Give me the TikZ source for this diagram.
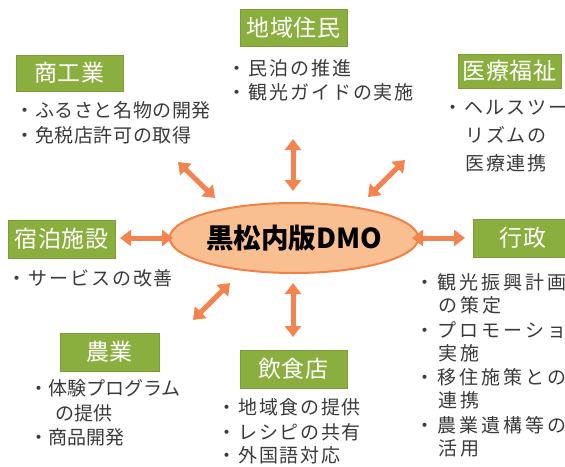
\documentclass[tikz,border=0pt]{standalone}
\usepackage{fontspec}
\setmainfont{Noto Sans CJK JP}
\usetikzlibrary{arrows.meta,shapes.geometric}
\definecolor{boxgreen}{HTML}{8BAF3F}
\definecolor{boxedge}{HTML}{7C9C36}
\definecolor{arroworange}{HTML}{F3844F}
\definecolor{ellfill}{HTML}{FABF91}
\definecolor{elledge}{HTML}{F08248}
\definecolor{txtgray}{HTML}{3A3A3A}
\newcommand\bodyfnt[1]{\fontsize{19}{22}\selectfont\addfontfeature{LetterSpace=#1}}
\tikzset{
  hdr/.style={draw=boxedge, fill=boxgreen, line width=1pt, text=white, inner sep=0pt,
    font=\fontsize{23}{27}\selectfont\addfontfeature{LetterSpace=4}},
  body/.style={anchor=west, inner sep=0pt, text=txtgray},
  link/.style={draw=arroworange, line width=5pt,
    {Triangle[width=16pt,length=11pt]}-{Triangle[width=16pt,length=11pt]}},
}
\begin{document}
\begin{tikzpicture}[x=1pt,y=-1pt]
\useasboundingbox (0,0) rectangle (565,466);
% centre
\node[ellipse, draw=elledge, fill=ellfill, line width=2pt, minimum width=222pt, minimum height=70pt, inner sep=0pt,
  font=\fontsize{27.5}{31}\selectfont\bfseries] (dmo) at (294,238) {黒松内版DMO};
% headers
\node[hdr, minimum width=107pt, minimum height=37pt] (jumin) at (293.5,27.5) {地域住民};
\node[hdr, minimum width=107pt, minimum height=36pt] (shoko) at (69.5,73) {商工業};
\node[hdr, minimum width=103pt, minimum height=34pt] (iryo) at (509.5,71) {医療福祉};
\node[hdr, minimum width=107pt, minimum height=38pt] (shuku) at (61.5,239) {宿泊施設};
\node[hdr, minimum width=100pt, minimum height=38pt] (gyosei) at (523,238) {行政};
\node[hdr, minimum width=99pt, minimum height=38pt] (nogyo) at (109.5,352) {農業};
\node[hdr, minimum width=107pt, minimum height=38pt] (inshoku) at (293.5,369) {飲食店};
% bodies
\node[body, font=\bodyfnt{10}] (j1) at (227.5,68) {・民泊の推進};
\node[body, font=\bodyfnt{10}] (j2) at (227.5,92) {・観光ガイドの実施};
\node[body, font=\bodyfnt{3}] (s1) at (15.5,110) {・ふるさと名物の開発};
\node[body, font=\bodyfnt{3}] (s2) at (15.5,135) {・免税店許可の取得};
\node[body, font=\bodyfnt{10}] (i1) at (443.5,108) {・ヘルスツー};
\node[body, font=\bodyfnt{10}] (i2) at (465,135) {リズムの};
\node[body, font=\bodyfnt{10}] (i3) at (465,163) {医療連携};
\node[body, font=\bodyfnt{10}] (h1) at (7.5,278) {・サービスの改善};
\node[body, font=\bodyfnt{16}] (g1) at (415.5,282) {・観光振興計画};
\node[body, font=\bodyfnt{16}] (g2) at (438,305) {の策定};
\node[body, font=\bodyfnt{16}] (g3) at (415.5,330) {・プロモーション};
\node[body, font=\bodyfnt{16}] (g4) at (438,353) {実施};
\node[body, font=\bodyfnt{16}] (g5) at (415.5,377) {・移住施策との};
\node[body, font=\bodyfnt{16}] (g6) at (438,400) {連携};
\node[body, font=\bodyfnt{16}] (g7) at (415.5,425) {・農業遺構等の};
\node[body, font=\bodyfnt{16}] (g8) at (438,448) {活用};
\node[body, font=\bodyfnt{0}] (n1) at (29,388) {・体験プログラム};
\node[body, font=\bodyfnt{0}] (n2) at (55,413) {の提供};
\node[body, font=\bodyfnt{0}] (n3) at (29,437) {・商品開発};
\node[body, font=\bodyfnt{9}] (f1) at (217.5,407) {・地域食の提供};
\node[body, font=\bodyfnt{9}] (f2) at (217.5,432) {・レシピの共有};
\node[body, font=\bodyfnt{9}] (f3) at (217.5,455) {・外国語対応};
% arrow ends
\coordinate (tA) at (293,139); \coordinate (tB) at (293,191);
\coordinate (bA) at (293,283); \coordinate (bB) at (293,337);
\coordinate (lA) at (120,238); \coordinate (lB) at (173,238);
\coordinate (rA) at (412,238); \coordinate (rB) at (465,238);
\coordinate (tlA) at (178,162); \coordinate (tlB) at (215,198);
\coordinate (trA) at (405,160); \coordinate (trB) at (368,197);
\coordinate (blA) at (230,283); \coordinate (blB) at (193,320);
\draw[link] (tA) -- (tB);
\draw[link] (bA) -- (bB);
\draw[link] (lA) -- (lB);
\draw[link] (rA) -- (rB);
\draw[link] (tlA) -- (tlB);
\draw[link] (trA) -- (trB);
\draw[link] (blA) -- (blB);
\end{tikzpicture}
\end{document}
